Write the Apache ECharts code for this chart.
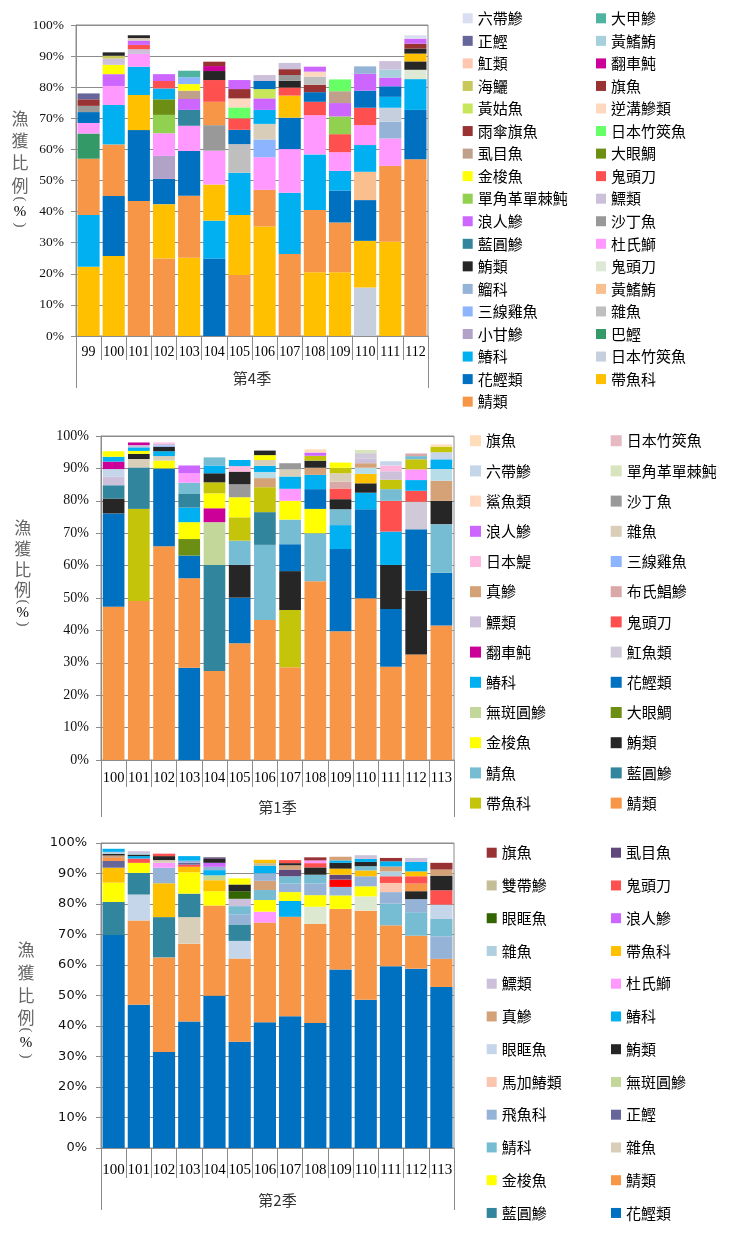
<!DOCTYPE html>
<html><head><meta charset="utf-8">
<script src="https://cdn.jsdelivr.net/npm/echarts@6/dist/echarts.min.js"></script>
<style>html,body{margin:0;padding:0;background:#fff}#c{width:749px;height:1243px}</style>
</head><body><div id="c"></div>
<script>
// ================= 第4季 =================
const q4Years = ['99','100','101','102','103','104','105','106','107','108','109','110','111','112'];
const q4Legend = ['六帶鰺','大甲鰺','正鰹','黃鰭鮪','魟類','翻車魨','海鱺','旗魚','黃姑魚','逆溝鰺類','雨傘旗魚','日本竹筴魚','虱目魚','大眼鯛','金梭魚','鬼頭刀','單角革單棘魨','鰾類','浪人鰺','沙丁魚','藍圓鰺','杜氏鰤','鮪類','鬼頭刀#2','鰡科','黃鰭鮪#2','三線雞魚','雜魚','小甘鰺','巴鰹','鰆科','日本竹筴魚#2','花鰹類','帶魚科','鯖類'];
// segments of each bar, bottom to top: [species, %]
const q4Bars = [
 [['帶魚科',22.3],['鰆科',16.6],['鯖類',18.1],['巴鰹',8.1],['杜氏鰤',3.4],['花鰹類',3.5],['沙丁魚',2.0],['旗魚',2.1],['正鰹',1.9]],
 [['帶魚科',25.7],['花鰹類',19.3],['鯖類',16.6],['鰆科',12.7],['杜氏鰤',6.1],['浪人鰺',3.8],['金梭魚',3.0],['鰾類',2.0],['海鱺',0.9],['鮪類',1.1]],
 [['鯖類',43.4],['花鰹類',22.8],['帶魚科',11.3],['鰆科',9.1],['杜氏鰤',4.1],['鰾類',1.5],['鬼頭刀',1.4],['浪人鰺',1.4],['其他',0.8],['鮪類',0.9]],
 [['鯖類',24.9],['帶魚科',17.5],['花鰹類',8.1],['小甘鰺',7.4],['杜氏鰤',7.3],['單角革單棘魨',5.9],['大眼鯛',5.0],['鰆科',3.5],['鬼頭刀',2.4],['浪人鰺',2.2]],
 [['帶魚科',25.2],['鯖類',19.9],['花鰹類',14.4],['杜氏鰤',8.1],['藍圓鰺',5.1],['浪人鰺',3.5],['虱目魚',2.7],['金梭魚',2.1],['三線雞魚',2.2],['大甲鰺',2.1]],
 [['花鰹類',24.9],['鰆科',12.2],['帶魚科',11.6],['杜氏鰤',10.9],['沙丁魚',8.2],['鯖類',7.5],['鬼頭刀',7.0],['鮪類',2.9],['翻車魨',1.6],['旗魚',1.4]],
 [['鯖類',19.6],['帶魚科',19.3],['鰆科',13.6],['雜魚',9.2],['花鰹類',4.6],['鬼頭刀',3.7],['日本竹筴魚',3.5],['逆溝鰺類',2.9],['旗魚',3.0],['浪人鰺',2.9]],
 [['帶魚科',35.2],['鯖類',11.8],['杜氏鰤',10.5],['三線雞魚',5.7],['其他',5.0],['鰆科',4.5],['浪人鰺',3.7],['黃姑魚',3.0],['花鰹類',2.6],['鰾類',1.9]],
 [['鯖類',26.4],['鰆科',19.7],['杜氏鰤',14.0],['花鰹類',10.1],['帶魚科',7.1],['鬼頭刀',2.6],['鮪類',2.2],['沙丁魚',1.8],['旗魚',1.9],['鰾類',2.0]],
 [['帶魚科',20.5],['鯖類',20.0],['鰆科',17.9],['杜氏鰤',12.6],['鬼頭刀',4.3],['花鰹類',3.1],['旗魚',2.4],['雜魚',2.6],['逆溝鰺類',1.6],['浪人鰺',1.6]],
 [['帶魚科',20.5],['鯖類',16.0],['花鰹類',10.3],['鰆科',6.3],['杜氏鰤',6.0],['鬼頭刀',5.8],['單角革單棘魨',5.7],['浪人鰺',4.3],['虱目魚',3.8],['日本竹筴魚',3.8]],
 [['日本竹筴魚#2',15.6],['帶魚科',15.0],['花鰹類',13.1],['黃鰭鮪#2',9.1],['鰆科',8.6],['杜氏鰤',6.4],['鬼頭刀',5.6],['花鰹類',5.5],['浪人鰺',5.4],['鰡科',2.4]],
 [['帶魚科',30.3],['鯖類',24.4],['杜氏鰤',8.8],['鰡科',5.4],['日本竹筴魚#2',4.5],['鰆科',3.5],['花鰹類',3.4],['浪人鰺',2.8],['黃鰭鮪',2.6],['鰾類',2.7]],
 [['鯖類',56.8],['花鰹類',15.9],['鰆科',9.9],['鬼頭刀#2',3.0],['鮪類',2.7],['帶魚科',2.5],['鮪類',1.6],['旗魚',1.6],['浪人鰺',1.6],['六帶鰺',1.1]]
];

// ================= 第1季 =================
const q1Years = ['100','101','102','103','104','105','106','107','108','109','110','111','112','113'];
const q1Legend = ['旗魚','日本竹筴魚','六帶鰺','單角革單棘魨','鯊魚類','沙丁魚','浪人鰺','雜魚','日本鯷','三線雞魚','真鰺','布氏鯧鰺','鰾類','鬼頭刀','翻車魨','魟魚類','鰆科','花鰹類','無斑圓鰺','大眼鯛','金梭魚','鮪類','鯖魚','藍圓鰺','帶魚科','鯖類'];
const q1Bars = [
 [['鯖類',47.3],['花鰹類',28.8],['鮪類',4.6],['藍圓鰺',4.1],['鰾類',2.6],['六帶鰺',2.4],['翻車魨',2.3],['鰆科',1.5],['金梭魚',1.7]],
 [['鯖類',49.1],['帶魚科',28.4],['藍圓鰺',12.8],['雜魚',2.6],['鮪類',1.6],['金梭魚',0.9],['鰆科',1.1],['鰾類',0.7],['翻車魨',0.8]],
 [['鯖類',66.0],['花鰹類',24.0],['金梭魚',2.4],['雜魚',1.4],['鰆科',1.5],['鮪類',1.4],['三線雞魚',0.4],['鰾類',0.5],['日本鯷',0.4]],
 [['花鰹類',28.5],['鯖類',27.6],['花鰹類',7.0],['大眼鯛',5.1],['金梭魚',5.2],['鰆科',4.5],['藍圓鰺',4.2],['鯖魚',3.5],['杜氏鰤',2.9],['浪人鰺',2.4]],
 [['鯖類',27.5],['藍圓鰺',32.7],['無斑圓鰺',13.2],['翻車魨',4.3],['金梭魚',4.6],['帶魚科',3.4],['鮪類',2.8],['鰆科',2.4],['鯖魚',2.5]],
 [['鯖類',36.0],['花鰹類',14.1],['鮪類',10.1],['鯖魚',7.5],['帶魚科',7.2],['金梭魚',6.2],['沙丁魚',4.0],['鮪類',3.9],['日本鯷',1.7],['鰆科',1.9]],
 [['鯖類',43.2],['鯖魚',23.2],['藍圓鰺',10.1],['帶魚科',7.7],['真鰺',2.8],['黃鰭鮪',1.9],['鰆科',1.9],['雜魚',1.8],['金梭魚',1.5],['鮪類',1.4]],
 [['鯖類',28.6],['帶魚科',17.7],['鮪類',12.0],['花鰹類',8.3],['鯖魚',7.6],['金梭魚',5.8],['杜氏鰤',3.7],['鰆科',3.8],['雜魚',2.2],['沙丁魚',1.9]],
 [['鯖類',55.2],['鯖魚',14.8],['金梭魚',7.5],['花鰹類',6.1],['鰆科',4.4],['真鰺',2.2],['鮪類',2.2],['帶魚科',1.5],['浪人鰺',1.0],['旗魚',1.0]],
 [['鯖類',39.7],['花鰹類',25.4],['鰆科',7.4],['鯖魚',4.9],['鮪類',3.1],['鬼頭刀',3.3],['布氏鯧鰺',2.1],['雜魚',2.6],['帶魚科',1.7],['金梭魚',1.6]],
 [['鯖類',49.9],['花鰹類',27.5],['鰆科',5.1],['鮪類',2.9],['帶魚',2.9],['黃鰭鮪',1.9],['真鰺',1.4],['鰾類',1.5],['魟魚類',1.6],['單角革單棘魨',1.0]],
 [['鯖類',28.8],['花鰹類',17.8],['鮪類',13.6],['鰆科',10.3],['鬼頭刀',9.5],['鯖魚',3.6],['帶魚科',2.9],['鰾類',2.6],['日本鯷',1.8],['六帶鰺',1.3]],
 [['鯖類',32.6],['鮪類',19.7],['花鰹類',18.9],['魟魚類',8.5],['鬼頭刀',3.4],['鰆科',3.3],['杜氏鰤',3.3],['帶魚科',3.1],['鯖魚',1.0],['布氏鯧鰺',0.8]],
 [['鯖類',41.5],['花鰹類',16.3],['鯖魚',15.0],['鮪類',7.2],['真鰺',6.2],['黃鰭鮪',3.6],['鰆科',3.0],['六帶鰺',2.2],['帶魚科',1.7],['旗魚',0.7]]
];

// ================= 第2季 =================
const q2Years = ['100','101','102','103','104','105','106','107','108','109','110','111','112','113'];
const q2Legend = ['旗魚','虱目魚','雙帶鰺','鬼頭刀','眼眶魚','浪人鰺','雜魚','帶魚科','鰾類','杜氏鰤','真鰺','鰆科','眼眶魚#2','鮪類','馬加鰆類','無斑圓鰺','飛魚科','正鰹','鯖科','雜魚#2','金梭魚','鯖類','藍圓鰺','花鰹類'];
const q2Bars = [
 [['花鰹類',69.8],['藍圓鰺',10.9],['金梭魚',6.3],['帶魚科',4.9],['正鰹',2.2],['鯖類',1.0],['真鰺',0.8],['鮪類',0.5],['雜魚',0.7],['鰆科',1.0]],
 [['花鰹類',47.0],['鯖類',27.6],['眼眶魚#2',8.5],['藍圓鰺',7.1],['金梭魚',3.3],['鬼頭刀',1.4],['鰆科',0.8],['鮪類',0.5],['雜魚',0.5],['鰾類',0.6]],
 [['花鰹類',31.5],['鯖類',31.0],['藍圓鰺',13.2],['帶魚科',11.1],['飛魚科',5.1],['杜氏鰤',1.6],['雜魚#2',0.9],['鮪類',1.3],['鬼頭刀',0.8]],
 [['花鰹類',41.5],['鯖類',25.5],['雜魚#2',8.7],['藍圓鰺',7.7],['金梭魚',7.0],['帶魚科',1.8],['鬼頭刀',0.7],['正鰹',0.6],['飛魚科',0.7],['鰆科',1.5]],
 [['花鰹類',49.9],['鯖類',29.6],['金梭魚',4.7],['帶魚科',3.6],['無斑圓鰺',1.6],['鰆科',1.7],['飛魚科',1.1],['浪人鰺',1.3],['鮪類',1.3],['虱目魚',0.5]],
 [['花鰹類',34.8],['鯖類',27.3],['眼眶魚#2',5.8],['藍圓鰺',5.4],['飛魚科',3.3],['鯖科',2.7],['鰾類',2.4],['眼眶魚',2.5],['鮪類',2.2],['金梭魚',2.0]],
 [['花鰹類',41.2],['鯖類',32.7],['杜氏鰤',3.6],['金梭魚',3.8],['鯖科',3.3],['真鰺',3.0],['飛魚科',2.5],['鰆科',2.4],['雙帶鰺',0.9],['帶魚科',1.1]],
 [['花鰹類',43.2],['鯖類',32.6],['鰆科',5.2],['金梭魚',2.9],['飛魚科',2.8],['鯖科',2.4],['虱目魚',2.2],['真鰺',1.4],['鮪類',0.7],['鬼頭刀',1.0]],
 [['花鰹類',41.0],['鯖類',32.5],['其他1',5.6],['金梭魚',3.8],['飛魚科',3.8],['鯖科',2.9],['鮪類',2.4],['鬼頭刀',1.4],['杜氏鰤',0.9],['旗魚',1.0]],
 [['花鰹類',58.5],['鯖類',19.9],['金梭魚',4.4],['飛魚科',2.8],['其他2',2.4],['虱目魚',1.6],['帶魚科',2.0],['鮪類',1.9],['鰆科',0.8],['真鰺',1.2]],
 [['花鰹類',48.6],['鯖類',29.2],['其他1',4.7],['金梭魚',3.3],['飛魚科',3.3],['帶魚科',1.9],['鯖科',1.4],['鮪類',1.4],['鰆科',1.0],['鰾類',1.2]],
 [['花鰹類',59.6],['鯖類',13.4],['鯖科',7.1],['飛魚科',3.8],['馬加鰆類',3.0],['鬼頭刀',2.2],['雜魚',1.6],['真鰺',1.6],['鰆科',1.7],['旗魚',1.1]],
 [['花鰹類',58.8],['鯖類',10.8],['鯖科',7.7],['飛魚科',4.3],['鮪類',2.6],['鯖類',2.5],['鬼頭刀',2.4],['帶魚科',1.6],['鰆科',3.1],['鰾類',1.3]],
 [['花鰹類',52.8],['鯖類',9.2],['飛魚科',7.4],['鯖科',5.7],['眼眶魚#2',4.7],['鬼頭刀',4.7],['鮪類',4.8],['真鰺',2.0],['旗魚',2.2]]
];

// ================= colours (style) =================
const q4Colors = ['#D9DEF0','#4EB3A0','#66669A','#A5D0DC','#FFC7B0','#CC0099','#C8C85A','#993333','#C8E65A','#FFD8C0','#993333','#66FF66','#BFA08A','#6B8E13','#FFFF00','#FF5050','#92D050','#CCC0DA','#CC66FF','#999999','#31859C','#FF99FF','#262626','#DDE9D5','#95B3D7','#FABF8F','#8DB4FF','#BFBFBF','#B3A2C7','#339966','#00B0F0','#C5CFDD','#0070C0','#FFC000','#F79646'];
const q4Extra = {'其他':'#D8CDB8'};
const q1Colors = ['#FFDDBB','#E6B9C3','#C5D5EA','#D7E4BD','#FFD8BF','#999999','#CC66FF','#D9CFB8','#FFB8E0','#8DB4FF','#D4A276','#D9A9A9','#CCC0DA','#FF5050','#CC0099','#D0CAD8','#00B0F0','#0070C0','#C4D79B','#6B8E13','#FFFF00','#262626','#76BCD3','#31859C','#C4C40A','#F79646'];
const q1Extra = {'黃鰭鮪':'#B7DEE8','帶魚':'#FFC000','杜氏鰤':'#FF99FF'};
const q2Colors = ['#993333','#60497A','#C4BD97','#FF5050','#336600','#CC66FF','#B0D0E0','#FFC000','#CCC0DA','#FF99FF','#D4A276','#00B0F0','#C5D5EA','#262626','#FBC5B0','#C4D79B','#95B3D7','#66669A','#76BCD3','#D9CFB8','#FFFF00','#F79646','#31859C','#0070C0'];
const q2Extra = {'其他1':'#DDE8D0','其他2':'#FF0000'};

const CJK = '"Noto Sans CJK TC","Noto Sans CJK SC",sans-serif';
const SERIF = '"Liberation Serif","DejaVu Serif",serif';
const SANS = '"DejaVu Sans",sans-serif';
const LINE = '#8c8c8c';

const charts = [
 {id:'q4', years:q4Years, bars:q4Bars, legend:q4Legend, colors:q4Colors, extra:q4Extra, season:'第4季',
  grid:{left:76, top:25, width:352, height:311}, gap:'12%',
  yFont:SERIF, ySize:13.5, yMargin:12, xSize:14, xMargin:9, tickLen:24, outerLen:52, seasonMargin:35,
  lg:{c1:462.7, c2:596, top:10.3, gap:6.55, icon:10},
  title:{x:20, top:107, lh:22.3, p:[199,212,225], size:17}},
 {id:'q1', years:q1Years, bars:q1Bars, legend:q1Legend, colors:q1Colors, extra:q1Extra, season:'第1季',
  grid:{left:101, top:436, width:353, height:324}, gap:'14%',
  yFont:SERIF, ySize:14, yMargin:12, xSize:14.5, xMargin:11, tickLen:27, outerLen:57, seasonMargin:40,
  lg:{c1:470, c2:610.7, top:432.7, gap:14.2, icon:11},
  title:{x:22.7, top:517.5, lh:20.7, p:[602,613,624], size:17}},
 {id:'q2', years:q2Years, bars:q2Bars, legend:q2Legend, colors:q2Colors, extra:q2Extra, season:'第2季',
  grid:{left:101, top:843, width:353, height:305}, gap:'12%',
  yFont:SANS, ySize:13, yMargin:14, xSize:15, xMargin:15, tickLen:30, outerLen:62, seasonMargin:45,
  lg:{c1:486.7, c2:611, top:844.7, gap:16.75, icon:10},
  title:{x:26, top:938.5, lh:22.7, p:[1030,1043,1056], size:17}}
];

function colorOf(c, name){
  const i = c.legend.indexOf(name);
  return i >= 0 ? c.colors[i] : c.extra[name];
}

const option = {animation:false, backgroundColor:'#fff', grid:[], xAxis:[], yAxis:[], series:[], legend:[], graphic:[]};

charts.forEach((c,k)=>{
  option.grid.push(Object.assign({show:true, borderColor:LINE, borderWidth:1, backgroundColor:'transparent'}, c.grid));
  option.xAxis.push({type:'category', gridIndex:k, position:'bottom', data:c.years,
    axisLine:{show:true, lineStyle:{color:LINE}},
    axisTick:{show:true, interval:0, length:c.tickLen, lineStyle:{color:LINE}},
    axisLabel:{interval:0, margin:c.xMargin, fontSize:c.xSize, fontFamily:SERIF, color:'#000'}});
  option.xAxis.push({type:'category', gridIndex:k, position:'bottom', data:[c.season],
    axisLine:{show:false},
    axisTick:{show:true, interval:0, length:c.outerLen, lineStyle:{color:LINE}},
    axisLabel:{interval:0, margin:c.seasonMargin, fontSize:15, fontFamily:CJK, color:'#333'}});
  option.yAxis.push({type:'value', gridIndex:k, min:0, max:100, interval:10,
    axisLine:{show:true, lineStyle:{color:LINE}},
    axisTick:{show:true, length:5, lineStyle:{color:LINE}},
    splitLine:{show:true, lineStyle:{color:LINE, width:1}},
    axisLabel:{formatter:'{value}%', margin:c.yMargin, fontSize:c.ySize, fontFamily:c.yFont, color:'#111'}});
  const xi = k*2;
  const nLayers = Math.max(...c.bars.map(b=>b.length));
  for(let i=0;i<nLayers;i++){
    option.series.push({type:'bar', name:c.id+'-layer'+i, xAxisIndex:xi, yAxisIndex:k, stack:c.id,
      barCategoryGap:c.gap,
      data:c.bars.map(b=> b[i] ? {value:b[i][1], name:b[i][0], itemStyle:{color:colorOf(c,b[i][0])}} : '-')});
  }
  c.legend.forEach((nm,j)=>{
    option.series.push({type:'bar', name:c.id+'|'+nm, xAxisIndex:xi, yAxisIndex:k, stack:c.id,
      barCategoryGap:c.gap, data:[], itemStyle:{color:c.colors[j]}});
  });
  [0,1].forEach(col=>{
    option.legend.push({orient:'vertical', left: col===0 ? c.lg.c1 : c.lg.c2, top:c.lg.top, padding:0,
      itemGap:c.lg.gap, itemWidth:c.lg.icon, itemHeight:c.lg.icon, icon:'rect', selectedMode:false,
      data:c.legend.filter((_,j)=>j%2===col).map(nm=>c.id+'|'+nm),
      formatter:n=>n.split('|')[1].replace(/#\d+$/,''),
      textStyle:{fontFamily:CJK, fontSize:15, lineHeight:16, color:'#000'}});
  });
  option.graphic.push({type:'text', x:c.title.x, y:c.title.top,
    style:{text:'漁\n獲\n比\n例', font:c.title.size+'px '+CJK, fill:'#666', align:'center', verticalAlign:'top', lineHeight:c.title.lh}});
  // vertical-text parentheses drawn as rotated "(" and ")"
  ['(','%',')'].forEach((t,i)=>{
    option.graphic.push({type:'text', x:c.title.x, y:c.title.p[i], rotation: i===1 ? 0 : -Math.PI/2,
      style:{text:t, font:(i===1?'15px ':'15px ')+SERIF, fill:i===1?'#000':'#555', align:'center', verticalAlign:'middle'}});
  });
});

const chart = echarts.init(document.getElementById('c'));
chart.setOption(option);
</script>
</body></html>
